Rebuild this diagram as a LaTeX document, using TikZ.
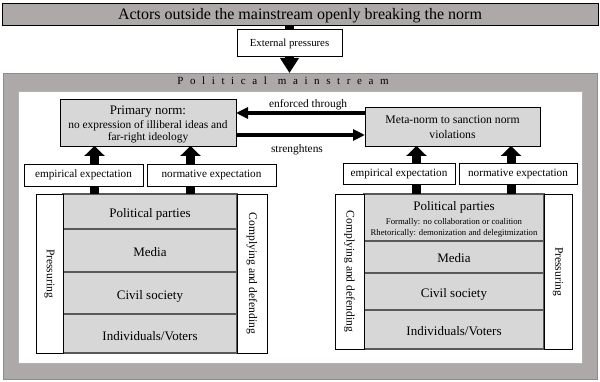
\documentclass[tikz,border=0pt]{standalone}
\usepackage{fontspec}
\setmainfont{Liberation Serif}
\newfontfamily\spacedfont[LetterSpace=60]{Liberation Serif}
\usetikzlibrary{arrows.meta}

\definecolor{bandgray}{HTML}{ADA9A9}
\definecolor{cellgray}{HTML}{D7D7D7}

\tikzset{
  corner/.style={anchor=north west},
  banner/.style={corner, draw, fill=bandgray, line width=0.8pt},
  normbox/.style={corner, draw, fill=cellgray, line width=0.8pt, align=center},
  expbox/.style={corner, draw, fill=white, line width=0.8pt, font=\fontsize{11.2}{13}\selectfont},
  cell/.style={corner, draw=black!65, fill=cellgray, line width=1.2pt, align=center, minimum width=#1, text height=13pt, text depth=0pt, font=\fontsize{13}{15}\selectfont},
  sidebox/.style={corner, draw, fill=white, line width=0.8pt},
  sidelabel/.style={rotate=-90, font=\fontsize{11.6}{13}\selectfont},
  fatarrow/.style={line width=9pt, -{Triangle[width=20pt,length=10pt]}},
  thinarrow/.style={line width=4pt, -{Triangle[width=11pt,length=12pt]}},
  lab/.style={font=\fontsize{11.4}{13}\selectfont}
}

\begin{document}
\begin{tikzpicture}[x=1pt, y=-1pt, every node/.style={inner sep=0pt, outer sep=0pt}]
  \useasboundingbox (0,0) rectangle (600,382);
  % outside the mainstream
  \node[banner, minimum width=596pt, minimum height=22pt, text height=11pt, text depth=0pt, font=\fontsize{16}{18}\selectfont] (actors) at (2,3) {Actors outside the mainstream openly breaking the norm};
  \node[corner, draw, fill=white, line width=0.8pt, minimum width=105pt, minimum height=27pt, text height=9pt, text depth=0pt, font=\fontsize{10.8}{12}\selectfont] (ext) at (237,29) {External pressures};
  \draw[line width=9pt] (actors.south -| ext.north) -- (ext.north);
  % political mainstream
  \node[corner, fill=bandgray, draw=black!45, minimum width=594pt, minimum height=306pt] (main) at (3,73) {};
  \draw[line width=9pt, -{Triangle[width=18pt,length=15pt]}] (ext.south) -- (ext.south |- main.north);
  \node[font=\spacedfont\fontsize{11}{12}\selectfont] (mainlabel) at (283,81) {Political\quad mainstream};
  \node[corner, fill=white, draw=black!30, minimum width=564pt, minimum height=272pt] (inner) at (18,91) {};

  % norms
  \node[normbox, minimum width=176pt, minimum height=47pt, font=\fontsize{11.4}{11.5}\selectfont] (prim) at (60,99) {\rule{0pt}{12pt}{\fontsize{13}{14.5}\selectfont Primary norm:}\\[2.5pt]no expression of illiberal ideas and\\far-right ideology};
  \node[normbox, minimum width=175pt, minimum height=39pt, font=\fontsize{11.7}{15}\selectfont] (meta) at (365,107) {\rule{0pt}{10pt}Meta-norm to sanction norm\\violations};
  \draw[thinarrow] ([yshift=-6pt]meta.north west) -- ([yshift=-6pt]meta.north west -| prim.east);
  \draw[thinarrow] ([yshift=11pt]prim.south east) -- ([yshift=11pt]prim.south east -| meta.west);
  \node[lab, anchor=west] (enflabel) at (269,105) {enforced through};
  \node[lab, anchor=west] (strlabel) at (271,150) {strenghtens};

  % left actors
  \node[cell=174pt, minimum height=35pt] (lpp) at (63,194) {Political parties};
  \node[cell=174pt, minimum height=43pt] (lmed) at (63,229) {Media};
  \node[cell=174pt, minimum height=42pt] (lcs) at (63,272) {Civil society};
  \node[cell=174pt, minimum height=39pt] (lind) at (63,314) {Individuals/Voters};
  \node[sidebox, minimum width=27pt, minimum height=159pt] (lpress) at (36,194) {};
  \node[sidebox, minimum width=30pt, minimum height=159pt] (lcomp) at (237,194) {};
  \node[sidelabel] (lpresstext) at (lpress) {Pressuring};
  \node[sidelabel] (lcomptext) at (lcomp) {Complying and defending};

  % right actors
  \node[cell=180pt, minimum height=47pt, text height=, text depth=, font=\fontsize{13}{10.7}\selectfont] (rpp) at (364,194) {\rule{0pt}{12.6pt}Political parties\\[2.9pt]{\fontsize{8.7}{10.7}\selectfont Formally: no collaboration or coalition}\\{\fontsize{8.7}{10.7}\selectfont Rhetorically: demonization and delegitmization}};
  \node[cell=180pt, minimum height=32pt, text height=12pt] (rmed) at (364,241) {Media};
  \node[cell=180pt, minimum height=37pt, text height=12pt] (rcs) at (364,273) {Civil society};
  \node[cell=180pt, minimum height=39pt, text height=12pt] (rind) at (364,310) {Individuals/Voters};
  \node[sidebox, minimum width=29pt, minimum height=155pt] (rcomp) at (335,194) {};
  \node[sidebox, minimum width=28pt, minimum height=155pt] (rpress) at (544,194) {};
  \node[sidelabel] (rcomptext) at (rcomp) {Complying and defending};
  \node[sidelabel] (rpresstext) at (rpress) {Pressuring};

  % expectations
  \coordinate (la) at (94.5,194);
  \coordinate (lb) at (190.5,194);
  \coordinate (ra) at (416.5,194);
  \coordinate (rb) at (511,194);
  \draw[fatarrow] (la) -- (la |- prim.south);
  \draw[fatarrow] (lb) -- (lb |- prim.south);
  \draw[fatarrow] (ra) -- (ra |- meta.south);
  \draw[fatarrow] (rb) -- (rb |- meta.south);
  \node[expbox, minimum width=119pt, minimum height=22pt] (lemp) at (24,164) {empirical expectation};
  \node[expbox, minimum width=129pt, minimum height=22pt] (lnorm) at (147,164) {normative expectation};
  \node[expbox, minimum width=112pt, minimum height=21pt] (remp) at (343,163) {empirical expectation};
  \node[expbox, minimum width=118pt, minimum height=21pt] (rnorm) at (459,163) {normative expectation};
\end{tikzpicture}
\end{document}
